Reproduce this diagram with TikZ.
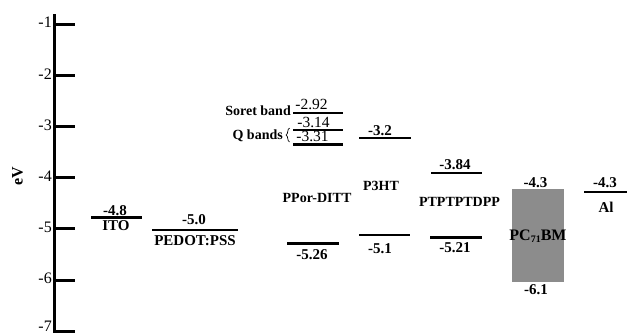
\documentclass[tikz,border=0pt]{standalone}
\usepackage{fontspec}
\setmainfont{Liberation Serif}
\usetikzlibrary{decorations.pathreplacing}
\begin{document}
\begin{tikzpicture}[x=1pt,y=-1pt,
  level/.style={line width=2.6pt},
  axisline/.style={line width=3pt},
  num/.style={font=\fontsize{15}{15}\selectfont\bfseries, inner sep=0pt},
  numr/.style={font=\fontsize{15.5}{15.5}\selectfont, inner sep=0pt},
  mat/.style={font=\fontsize{15}{15}\selectfont\bfseries, inner sep=0pt},
  poly/.style={font=\fontsize{14}{14}\selectfont\bfseries, inner sep=0pt},
  ticklab/.style={font=\fontsize{16}{16}\selectfont, inner sep=0pt, anchor=east},
  acceptor/.style={fill=black!45, draw=none}]
\useasboundingbox (0,0) rectangle (632,335);

% energy axis
\draw[axisline] (54.5,14) -- (54.5,332.5);
\foreach \v [count=\i from 0] in {-1,-2,-3,-4,-5,-6}{
  \pgfmathsetmacro{\yy}{24+51.2*\i}
  \draw[axisline] (54.5,\yy) -- (75,\yy);
  \node[ticklab] (tick\i) at (52,\yy-1.5) {\v};
}
\draw[axisline] (54.5,331.2) -- (75,331.2);
\node[ticklab] (tick6) at (52,326) {-7};
\node[font=\fontsize{16}{16}\selectfont\bfseries, rotate=90, inner sep=0pt] (ev) at (17.5,176) {eV};

% ITO
\draw[level] (91,217.5) -- (141.5,217.5);
\node[num] (ito-n) at (115,210.5) {-4.8};
\node[mat] (ito) at (116,226) {ITO};

% PEDOT:PSS
\draw[level] (152,230) -- (238,230);
\node[num] (pedot-n) at (194,220) {-5.0};
\node[mat] (pedot) at (195,241) {PEDOT:PSS};

% PPor-DITT
\draw[level] (293,113) -- (343,113);
\draw[level] (293,130) -- (343,130);
\draw[level] (293,144.5) -- (343,144.5);
\node[numr] (ppor-s) at (311.5,104) {-2.92};
\node[numr] (ppor-q1) at (313.5,122.5) {-3.14};
\node[numr] (ppor-q2) at (312.5,136.5) {-3.31};
\node[poly, anchor=east] (soret) at (291,110.5) {Soret band};
\node[poly, anchor=east] (qb) at (283,136) {Q bands};
\draw[line width=0.7pt, decorate, decoration={brace, amplitude=3.5pt}]
  (289.5,142) -- (289.5,128);
\node[poly] (ppor) at (317,198) {PPor-DITT};
\draw[level] (287,243.3) -- (339,243.3);
\node[num] (ppor-h) at (312,254.5) {-5.26};

% P3HT
\draw[level] (359,138) -- (411,138);
\node[num] (p3ht-l) at (380,130.5) {-3.2};
\node[poly] (p3ht) at (381,186) {P3HT};
\draw[level] (359,235) -- (410,235);
\node[num] (p3ht-h) at (380,249) {-5.1};

% PTPTPTDPP
\draw[level] (431,173) -- (482,173);
\node[num] (dpp-l) at (455,165) {-3.84};
\node[poly] (dpp) at (459.5,202) {PTPTPTDPP};
\draw[level] (430,237.7) -- (481.7,237.7);
\node[num] (dpp-h) at (455,248) {-5.21};

% PC71BM
\path[acceptor] (511.7,189) rectangle (564,282);
\node[num] (pcbm-l) at (535.5,182.5) {-4.3};
\node[font=\fontsize{16}{16}\selectfont\bfseries, inner sep=0pt] (pcbm) at (538,236) {PC\raisebox{-0.25ex}{\fontsize{10}{10}\selectfont 71}BM};
\node[num] (pcbm-h) at (536,290) {-6.1};

% Al
\draw[level] (584,192) -- (627,192);
\node[num] (al-n) at (605,182.5) {-4.3};
\node[mat] (al) at (606,207) {Al};
\end{tikzpicture}
\end{document}
